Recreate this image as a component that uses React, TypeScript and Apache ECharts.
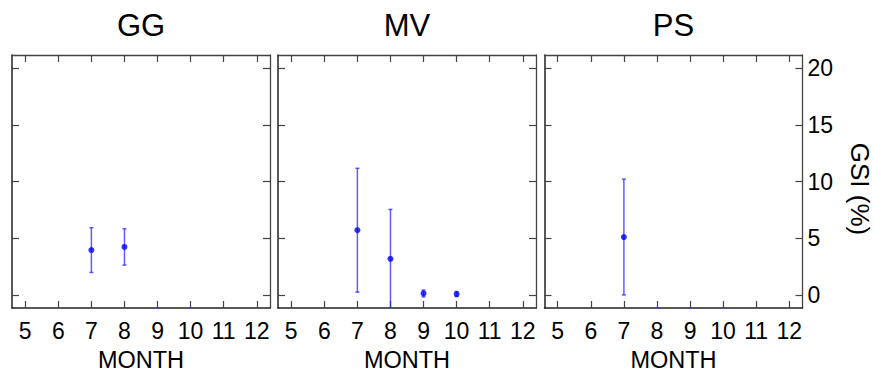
import React, { useEffect, useRef } from 'react';
import * as echarts from 'echarts';

const panelTitles = ['GG', 'MV', 'PS'];
const monthTicks = [5, 6, 7, 8, 9, 10, 11, 12];
const gsiTicks = [0, 5, 10, 15, 20];
const yAxisTitle = 'GSI (%)';
const xAxisTitle = 'MONTH';

const ggMonths = [7, 8];
const ggMean = [3.97, 4.25];
const ggErr = [1.97, 1.6];

const mvMonths = [7, 8, 9, 10];
const mvMean = [5.72, 3.2, 0.15, 0.1];
const mvErr = [5.45, 4.35, 0.3, 0.22];

const psMonths = [7];
const psMean = [5.12];
const psErr = [5.1];

// months whose markers sit on the lower axis limit (only a speck shows)
const ggBelow = [9, 10];
const mvBelow: number[] = [];
const psBelow = [8, 9, 10];

const X_MIN = 4.6;
const X_MAX = 12.4;
const Y_MIN = -1.13;
const Y_MAX = 21.15;

const FONT = '"Liberation Sans", Arial, sans-serif';
const POINT_COLOR = '#0000ff';
const ERR_COLOR = 'rgba(40,40,255,0.75)';

const panelData = [
  { months: ggMonths, mean: ggMean, err: ggErr, below: ggBelow },
  { months: mvMonths, mean: mvMean, err: mvErr, below: mvBelow },
  { months: psMonths, mean: psMean, err: psErr, below: psBelow },
];

const gridLefts = [12, 278, 544.5];
const GRID_W = 258;
const GRID_TOP = 55;
const GRID_H = 258;

function buildOption() {
  const grid = gridLefts.map((l) => ({ left: l, top: GRID_TOP, width: GRID_W, height: GRID_H, containLabel: false }));
  const title = panelTitles.map((t, i) => ({
    text: t,
    left: gridLefts[i] + GRID_W / 2,
    top: 9.5,
    padding: 0,
    textAlign: 'center',
    textStyle: { fontSize: 31, fontWeight: 'normal', fontFamily: FONT, color: '#000' },
  }));

  const xAxis: any[] = [];
  const yAxis: any[] = [];
  panelTitles.forEach((_, i) => {
    xAxis.push({
      type: 'value', gridIndex: i, position: 'bottom', min: X_MIN, max: X_MAX,
      axisLine: { show: true, onZero: false, lineStyle: { color: '#222', width: 1.5 } },
      axisTick: { show: true, inside: true, length: 7, customValues: monthTicks, lineStyle: { color: '#444', width: 1.2 } },
      axisLabel: { show: true, customValues: monthTicks, fontSize: 23, fontFamily: FONT, color: '#000', margin: 11 },
      splitLine: { show: false },
      name: xAxisTitle, nameLocation: 'middle', nameGap: 40,
      nameTextStyle: { fontSize: 23.5, fontFamily: FONT, color: '#000' },
    });
    xAxis.push({
      type: 'value', gridIndex: i, position: 'top', min: X_MIN, max: X_MAX,
      axisLine: { show: true, onZero: false, lineStyle: { color: '#444', width: 1.3 } },
      axisTick: { show: true, inside: true, length: 7, customValues: monthTicks, lineStyle: { color: '#444', width: 1.2 } },
      axisLabel: { show: false },
      splitLine: { show: false },
    });
    yAxis.push({
      type: 'value', gridIndex: i, position: 'left', min: Y_MIN, max: Y_MAX,
      axisLine: { show: true, onZero: false, lineStyle: { color: '#222', width: 1.5 } },
      axisTick: { show: true, inside: true, length: 7, customValues: gsiTicks, lineStyle: { color: '#444', width: 1.2 } },
      axisLabel: { show: false },
      splitLine: { show: false },
    });
    yAxis.push({
      type: 'value', gridIndex: i, position: 'right', min: Y_MIN, max: Y_MAX,
      axisLine: { show: true, onZero: false, lineStyle: { color: '#444', width: 1.3 } },
      axisTick: { show: true, inside: true, length: 7, customValues: gsiTicks, lineStyle: { color: '#444', width: 1.2 } },
      axisLabel: { show: i === 2, customValues: gsiTicks, fontSize: 23, fontFamily: FONT, color: '#000', margin: 5 },
      splitLine: { show: false },
    });
  });

  const series: any[] = [];
  panelData.forEach((p, i) => {
    const errData = p.months.map((m, k) => [m, p.mean[k], p.err[k]]);
    series.push({
      type: 'custom', xAxisIndex: i * 2, yAxisIndex: i * 2, clip: true, z: 3,
      data: errData,
      renderItem: (params: any, api: any) => {
        const x = api.value(0);
        const m = api.value(1);
        const e = api.value(2);
        const hi = api.coord([x, m + e]);
        const lo = api.coord([x, m - e]);
        const cs = params.coordSys;
        const bottom = cs.y + cs.height;
        const style = { stroke: ERR_COLOR, lineWidth: 1.5 };
        const cw = 2;
        const children: any[] = [];
        const loY = Math.min(lo[1], bottom);
        children.push({ type: 'line', shape: { x1: hi[0], y1: hi[1], x2: lo[0], y2: loY }, style });
        children.push({ type: 'line', shape: { x1: hi[0] - cw, y1: hi[1], x2: hi[0] + cw, y2: hi[1] }, style });
        if (lo[1] <= bottom) {
          children.push({ type: 'line', shape: { x1: lo[0] - cw, y1: lo[1], x2: lo[0] + cw, y2: lo[1] }, style });
        }
        return { type: 'group', children };
      },
    });
    series.push({
      type: 'scatter', xAxisIndex: i * 2, yAxisIndex: i * 2, z: 4,
      data: p.months.map((m, k) => [m, p.mean[k]]),
      symbol: 'circle', symbolSize: 6,
      itemStyle: { color: POINT_COLOR },
    });
    series.push({
      type: 'scatter', xAxisIndex: i * 2, yAxisIndex: i * 2, z: 6, clip: false,
      data: p.below.map((m) => [m, Y_MIN]),
      symbol: 'rect', symbolSize: [2, 2],
      itemStyle: { color: '#3a3aff' },
    });
  });

  const graphic = [
    {
      type: 'text', x: 860, y: 189, rotation: -Math.PI / 2,
      style: { text: yAxisTitle, fontSize: 26, fontFamily: FONT, fill: '#000', align: 'center', verticalAlign: 'middle' },
    },
  ];

  return { animation: false, backgroundColor: '#fff', title, grid, xAxis, yAxis, series, graphic };
}

export default function App() {
  const ref = useRef<HTMLDivElement>(null);
  useEffect(() => {
    if (!ref.current) return;
    const chart = echarts.init(ref.current, undefined, { renderer: 'svg' });
    chart.setOption(buildOption() as any);
    return () => chart.dispose();
  }, []);
  return <div ref={ref} style={{ position: 'fixed', left: 0, top: 0, width: 874, height: 377, background: '#fff' }} />;
}
